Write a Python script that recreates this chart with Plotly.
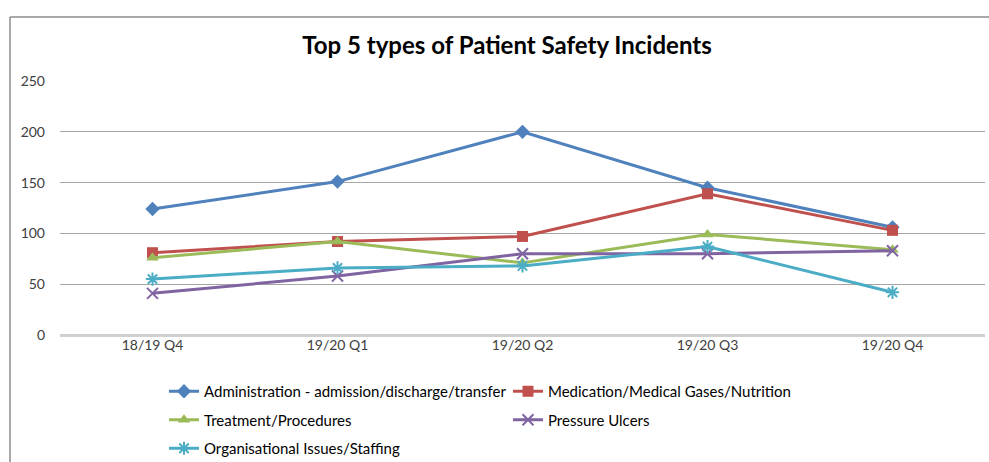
import plotly.graph_objects as go

categories = ["18/19 Q4", "19/20 Q1", "19/20 Q2", "19/20 Q3", "19/20 Q4"]
admin = [124, 151, 200, 145, 106]
medication = [81, 92, 97, 139, 103]
treatment = [76, 92, 71, 99, 84]
pressure = [41, 58, 80, 80, 83]
organisational = [55, 66, 68, 87, 42]

series = [
    ("Administration - admission/discharge/transfer", admin, "#4F81BD", "diamond", 11, "legend"),
    ("Medication/Medical Gases/Nutrition", medication, "#C0504D", "square", 11, "legend2"),
    ("Treatment/Procedures", treatment, "#9BBB59", "triangle-up", 11, "legend"),
    ("Pressure Ulcers", pressure, "#8064A2", "x-thin-open", 11, "legend2"),
    ("Organisational Issues/Staffing", organisational, "#4BACC6", "asterisk-open", 11, "legend"),
]

FONT = "Lato"
fig = go.Figure()
for i, (name, vals, color, sym, size, lg) in enumerate(series):
    marker = dict(symbol=sym, size=size, color=color)
    if "open" in sym:
        marker["line"] = dict(color=color, width=2)
    fig.add_trace(go.Scatter(
        x=categories, y=vals, name=name, mode="lines+markers",
        line=dict(color=color, width=3), marker=marker,
        legend=lg, legendgroup="g%d" % i,
    ))

W, H = 989, 462
L, R, T, B = 60, 4, 81, 127
pw = W - L - R
ph = H - T - B

def px(x):
    return (x - L) / pw

def py(y):
    return (H - B - y) / ph

fig.update_layout(
    width=W, height=H,
    margin=dict(l=L, r=R, t=T, b=B, autoexpand=False),
    paper_bgcolor="white", plot_bgcolor="white",
    font=dict(family=FONT, color="#404040", size=13),
    title=dict(text="<b>Top 5 types of Patient Safety Incidents</b>",
               x=507 / W, xref="container", xanchor="center", y=1 - 46 / H, yanchor="middle",
               font=dict(family=FONT, size=24, color="#000000")),
    xaxis=dict(type="category", range=[-0.5, 4.5], showgrid=False, zeroline=False,
               showline=False, ticks="", automargin=False,
               tickfont=dict(size=14, color="#404040")),
    yaxis=dict(range=[0, 250], dtick=50, showgrid=True, gridcolor="#A6A6A6", gridwidth=1,
               zeroline=True, zerolinecolor="#D0D0D0", zerolinewidth=3,
               showline=False, ticks="", ticklabelstandoff=14, automargin=False,
               tickfont=dict(size=14, color="#404040")),
    legend=dict(orientation="v", x=px(164), xanchor="left", y=py(375), yanchor="top",
                font=dict(family=FONT, size=15, color="#000000"), tracegroupgap=6,
                bgcolor="rgba(0,0,0,0)"),
    legend2=dict(orientation="v", x=px(508), xanchor="left", y=py(375), yanchor="top",
                 font=dict(family=FONT, size=15, color="#000000"), tracegroupgap=6,
                 bgcolor="rgba(0,0,0,0)"),
    shapes=[
        dict(type="line", xref="paper", yref="paper", x0=px(10), x1=px(995), y0=py(17), y1=py(17),
             line=dict(color="#8C8C8C", width=1.5)),
        dict(type="line", xref="paper", yref="paper", x0=px(10), x1=px(10), y0=py(17), y1=py(470),
             line=dict(color="#8C8C8C", width=1.5)),
    ],
)

fig.write_html("out.html", config={"displayModeBar": False},
               post_script="document.body.style.margin='0';")
